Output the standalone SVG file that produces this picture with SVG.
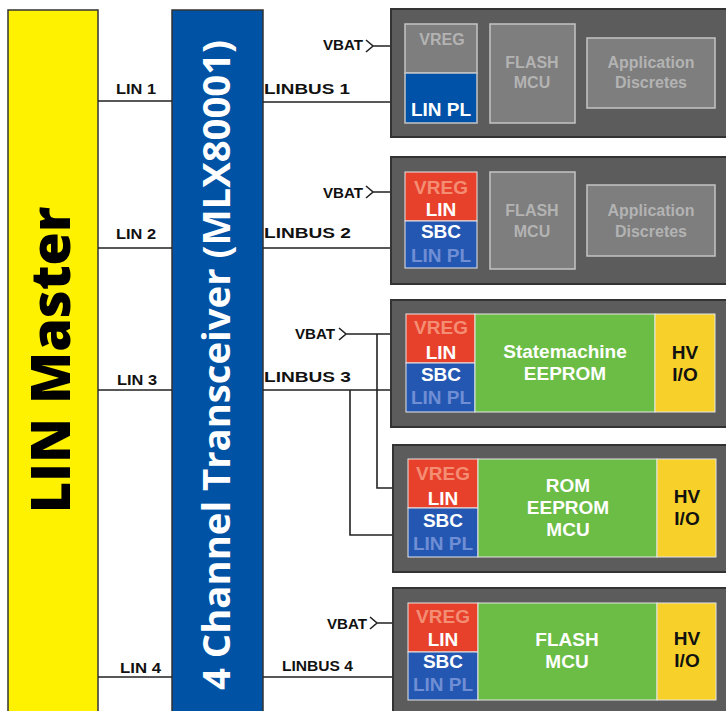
<svg xmlns="http://www.w3.org/2000/svg" width="726" height="711" viewBox="0 0 726 711">
<style>
.lbl{font-family:"Liberation Sans",Arial,sans-serif;font-weight:700;font-size:14px;fill:#111}
.bt{font-family:"Liberation Sans",Arial,sans-serif;font-weight:700;font-size:15px;text-anchor:middle}
.big{font-size:19px}
.mod{fill:#5c5c5c;stroke:#333;stroke-width:2}
.gbox{fill:#7e7e7e;stroke:#c4c4c4;stroke-width:1.5}
.gt{fill:#b3b3b3;font-size:16px}
.red{fill:#e8412b;stroke:#e6e6e6;stroke-width:1}
.blu{fill:#2457b2;stroke:#e6e6e6;stroke-width:1}
.grn{fill:#6cbd45;stroke:#e6e6e6;stroke-width:1}
.yel{fill:#f7d12a;stroke:#e6e6e6;stroke-width:1}
.vr{fill:#f38e74}
.wt{fill:#fff}
.lp{fill:#6f8ed4}
.bk{fill:#111}
.w{fill:none;stroke:#222;stroke-width:1.6}
.cn{fill:none;stroke:#c4c4c4;stroke-width:1.5}
</style>
<rect width="726" height="711" fill="#fff"/>
<g id="lin-master">
<rect x="8" y="10" width="90" height="720" fill="#fff200" stroke="#333" stroke-width="1.5"/>
<text transform="translate(70,360) rotate(-90)" text-anchor="middle" font-family="Open Sans,Liberation Sans,sans-serif" font-weight="800" font-size="54" fill="#000">LIN Master</text>
</g>
<g id="transceiver">
<rect x="172" y="10" width="91" height="720" fill="#0052a4" stroke="#333" stroke-width="1.5"/>
<text transform="translate(230,365) rotate(-90)" text-anchor="middle" font-family="Open Sans,Liberation Sans,sans-serif" font-weight="700" font-size="37" fill="#fff" textLength="650" lengthAdjust="spacingAndGlyphs">4 Channel Transceiver (MLX80001)</text>
</g>
<g id="connectors">
<path class="w" d="M98,101H172M98,248H172M98,390H172M98,677H172"/>
<path class="w" d="M263,102H406M263,248H406M263,390H406M263,677H408"/>
<path class="w" d="M366,40L373,46L366,52M373,46H406"/>
<path class="w" d="M366,186L373,192L366,198M373,192H406"/>
<path class="w" d="M339,328L346,334L339,340M346,334H406"/>
<path class="w" d="M370,617L377,623L370,629M377,623H408"/>
<path class="w" d="M377,334V488H408M350,390V535H408"/>
<path class="cn" d="M477,46H490M477,102H490M477,192H490M477,248H490"/>
</g>
<g id="labels">
<text class="lbl" x="116" y="94" textLength="40" lengthAdjust="spacingAndGlyphs">LIN 1</text>
<text class="lbl" x="116" y="239" textLength="40" lengthAdjust="spacingAndGlyphs">LIN 2</text>
<text class="lbl" x="117" y="385" textLength="40" lengthAdjust="spacingAndGlyphs">LIN 3</text>
<text class="lbl" x="120" y="673" textLength="41" lengthAdjust="spacingAndGlyphs">LIN 4</text>
<text class="lbl" x="264" y="94" textLength="86" lengthAdjust="spacingAndGlyphs">LINBUS 1</text>
<text class="lbl" x="264" y="238" textLength="87" lengthAdjust="spacingAndGlyphs">LINBUS 2</text>
<text class="lbl" x="264" y="382" textLength="87" lengthAdjust="spacingAndGlyphs">LINBUS 3</text>
<text class="lbl" x="282" y="671" textLength="71" lengthAdjust="spacingAndGlyphs">LINBUS 4</text>
<text class="lbl" x="323" y="50" textLength="40" lengthAdjust="spacingAndGlyphs">VBAT</text>
<text class="lbl" x="323" y="198" textLength="40" lengthAdjust="spacingAndGlyphs">VBAT</text>
<text class="lbl" x="295" y="339" textLength="40" lengthAdjust="spacingAndGlyphs">VBAT</text>
<text class="lbl" x="327" y="629" textLength="40" lengthAdjust="spacingAndGlyphs">VBAT</text>
</g>
<g id="module1">
<rect class="mod" x="391" y="9" width="345" height="128"/>
<rect class="gbox" x="405" y="24" width="72" height="49"/>
<rect x="405" y="73" width="72" height="50" fill="#0052a8" stroke="#c4c4c4" stroke-width="1.5"/>
<rect class="gbox" x="490" y="24" width="85" height="99"/>
<rect class="gbox" x="587" y="38" width="128" height="70"/>
<text class="bt gt" x="442" y="45">VREG</text>
<text class="bt wt big" x="441" y="116" font-size="20">LIN PL</text>
<text class="bt gt" x="532" y="68">FLASH</text>
<text class="bt gt" x="532" y="88">MCU</text>
<text class="bt gt" x="651" y="68">Application</text>
<text class="bt gt" x="651" y="88">Discretes</text>
</g>
<g id="module2">
<rect class="mod" x="391" y="157" width="345" height="127"/>
<rect class="red" x="405" y="172" width="72" height="49"/>
<rect class="blu" x="405" y="221" width="72" height="47"/>
<rect class="gbox" x="490" y="172" width="85" height="97"/>
<rect class="gbox" x="587" y="185" width="128" height="71"/>
<text class="bt vr big" x="441" y="194">VREG</text>
<text class="bt wt big" x="441" y="216">LIN</text>
<text class="bt wt big" x="441" y="238">SBC</text>
<text class="bt lp big" x="441" y="262">LIN PL</text>
<text class="bt gt" x="532" y="216">FLASH</text>
<text class="bt gt" x="532" y="237">MCU</text>
<text class="bt gt" x="651" y="216">Application</text>
<text class="bt gt" x="651" y="237">Discretes</text>
</g>
<g id="module3">
<rect class="mod" x="391" y="300" width="345" height="127"/>
<rect class="red" x="406" y="314" width="69" height="49"/>
<rect class="blu" x="406" y="363" width="69" height="49"/>
<rect class="grn" x="475" y="314" width="180" height="98"/>
<rect class="yel" x="655" y="314" width="60" height="98"/>
<text class="bt vr big" x="441" y="334">VREG</text>
<text class="bt wt big" x="441" y="359">LIN</text>
<text class="bt wt big" x="441" y="381">SBC</text>
<text class="bt lp big" x="441" y="404">LIN PL</text>
<text class="bt wt big" x="565" y="358">Statemachine</text>
<text class="bt wt big" x="565" y="380">EEPROM</text>
<text class="bt bk big" x="685" y="359">HV</text>
<text class="bt bk big" x="685" y="381">I/O</text>
</g>
<g id="module4">
<rect class="mod" x="393" y="445" width="345" height="127"/>
<rect class="red" x="408" y="459" width="70" height="49"/>
<rect class="blu" x="408" y="508" width="70" height="49"/>
<rect class="grn" x="478" y="459" width="179" height="98"/>
<rect class="yel" x="657" y="459" width="59" height="98"/>
<text class="bt vr big" x="443" y="480">VREG</text>
<text class="bt wt big" x="443" y="505">LIN</text>
<text class="bt wt big" x="443" y="527">SBC</text>
<text class="bt lp big" x="443" y="550">LIN PL</text>
<text class="bt wt big" x="568" y="492">ROM</text>
<text class="bt wt big" x="568" y="514">EEPROM</text>
<text class="bt wt big" x="568" y="536">MCU</text>
<text class="bt bk big" x="687" y="503">HV</text>
<text class="bt bk big" x="687" y="525">I/O</text>
</g>
<g id="module5">
<rect class="mod" x="393" y="588" width="345" height="135"/>
<rect class="red" x="408" y="603" width="70" height="49"/>
<rect class="blu" x="408" y="652" width="70" height="48"/>
<rect class="grn" x="478" y="603" width="179" height="97"/>
<rect class="yel" x="657" y="603" width="59" height="97"/>
<text class="bt vr big" x="443" y="623">VREG</text>
<text class="bt wt big" x="443" y="646">LIN</text>
<text class="bt wt big" x="443" y="668">SBC</text>
<text class="bt lp big" x="443" y="691">LIN PL</text>
<text class="bt wt big" x="567" y="646">FLASH</text>
<text class="bt wt big" x="567" y="668">MCU</text>
<text class="bt bk big" x="687" y="645">HV</text>
<text class="bt bk big" x="687" y="667">I/O</text>
</g>
</svg>
